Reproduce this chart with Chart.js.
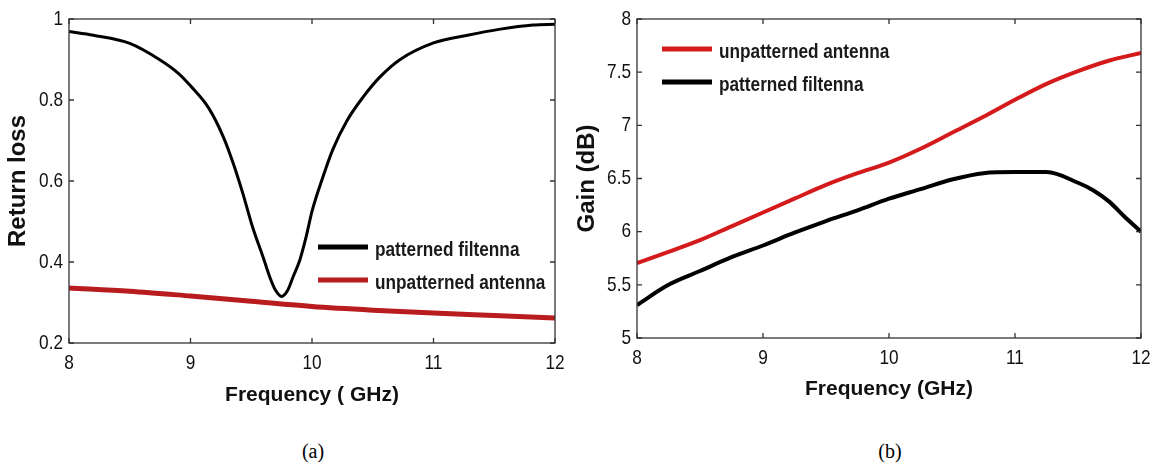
<!DOCTYPE html>
<html>
<head>
<meta charset="utf-8">
<script src="https://cdn.jsdelivr.net/npm/chart.js@4.4.1/dist/chart.umd.min.js"></script>
<style>
  html, body { margin: 0; padding: 0; background: #fff; }
  body { width: 1156px; height: 471px; position: relative; overflow: hidden; }
  .panel { position: absolute; top: 0; }
  .cap { position: absolute; font-family: 'Liberation Serif', 'Times New Roman', serif; font-size: 20px; color: #000; transform: translate(-50%, -50%); }
</style>
</head>
<body>
<div class="panel" style="left:0"><canvas id="rl" width="570" height="420"></canvas></div>
<div class="panel" style="left:570px"><canvas id="gain" width="586" height="420"></canvas></div>
<div class="cap" style="left:313px;top:451px">(a)</div>
<div class="cap" style="left:890px;top:451px">(b)</div>
<script>
// (a) return loss
const rlFreqPatterned = [8, 8.2, 8.5, 8.75, 8.9, 9.0, 9.15, 9.27, 9.35, 9.43, 9.51, 9.6, 9.65, 9.7, 9.75, 9.8, 9.84, 9.9, 9.95, 10.0, 10.09, 10.17, 10.29, 10.42, 10.56, 10.72, 11.0, 11.28, 11.55, 11.82, 12];
const rlPatterned = [0.969, 0.96, 0.94, 0.899, 0.866, 0.835, 0.78, 0.709, 0.645, 0.57, 0.487, 0.41, 0.365, 0.33, 0.315, 0.33, 0.36, 0.405, 0.46, 0.525, 0.61, 0.677, 0.75, 0.807, 0.857, 0.899, 0.941, 0.96, 0.975, 0.985, 0.987];
const rlFreqUnpatterned = [8, 8.5, 9, 9.5, 10, 10.5, 11, 11.5, 12];
const rlUnpatterned = [0.336, 0.328, 0.316, 0.303, 0.29, 0.281, 0.274, 0.268, 0.262];
const rlTicks = [0.2, 0.4, 0.6, 0.8, 1];

// (b) gain
const gainFreqUnpatterned = [8, 8.25, 8.5, 8.75, 9, 9.25, 9.5, 9.75, 10, 10.25, 10.5, 10.75, 11, 11.25, 11.5, 11.75, 12];
const gainUnpatterned = [5.705, 5.81, 5.92, 6.05, 6.18, 6.31, 6.44, 6.55, 6.65, 6.78, 6.93, 7.08, 7.24, 7.39, 7.51, 7.61, 7.68];
const gainFreqPatterned = [8, 8.25, 8.5, 8.75, 9, 9.25, 9.5, 9.75, 10, 10.25, 10.5, 10.75, 11, 11.25, 11.5, 11.62, 11.75, 11.87, 12];
const gainPatterned = [5.31, 5.5, 5.63, 5.76, 5.87, 5.99, 6.1, 6.2, 6.31, 6.4, 6.49, 6.55, 6.56, 6.56, 6.46, 6.39, 6.28, 6.14, 6.0];
const gainTicks = [5, 5.5, 6, 6.5, 7, 7.5, 8];

const freqTicks = [8, 9, 10, 11, 12];

const sans = "'Liberation Sans', Arial, sans-serif";
const squeeze = 0.82; // no Arial Narrow here, so squeeze Liberation Sans

const pts = (xs, ys) => xs.map((x, i) => ({ x: x, y: ys[i] }));

function narrowText(ctx, str, x, y, font, align, base) {
  ctx.save();
  ctx.translate(x, y);
  ctx.scale(squeeze, 1);
  ctx.font = font;
  ctx.textAlign = align;
  ctx.textBaseline = base;
  ctx.fillText(str, 0, 0);
  ctx.restore();
}

// matlab style box with inward ticks and narrow tick labels
const frame = {
  id: 'frame',
  afterDatasetsDraw(chart) {
    const { ctx, chartArea: a, scales: { x, y } } = chart;
    const t = 5;
    ctx.save();
    ctx.strokeStyle = '#333';
    ctx.lineWidth = 1.3;
    ctx.strokeRect(a.left, a.top, a.right - a.left, a.bottom - a.top);
    ctx.beginPath();
    x.ticks.forEach(tk => {
      const px = x.getPixelForValue(tk.value);
      ctx.moveTo(px, a.bottom); ctx.lineTo(px, a.bottom - t);
      ctx.moveTo(px, a.top); ctx.lineTo(px, a.top + t);
    });
    y.ticks.forEach(tk => {
      const py = y.getPixelForValue(tk.value);
      ctx.moveTo(a.left, py); ctx.lineTo(a.left + t, py);
      ctx.moveTo(a.right, py); ctx.lineTo(a.right - t, py);
    });
    ctx.stroke();
    ctx.fillStyle = '#111';
    const f = '21px ' + sans;
    x.ticks.forEach(tk => narrowText(ctx, String(tk.value), x.getPixelForValue(tk.value), a.bottom + 26, f, 'center', 'alphabetic'));
    y.ticks.forEach(tk => narrowText(ctx, String(tk.value), a.left - 6, y.getPixelForValue(tk.value), f, 'right', 'middle'));
    ctx.restore();
  }
};

// legend box drawn inside the axes
const key = {
  id: 'key',
  afterDatasetsDraw(chart, args, opts) {
    const { ctx, chartArea: a } = chart;
    opts.order.forEach((di, row) => {
      const ds = chart.data.datasets[di];
      const x0 = a.left + opts.x;
      const y0 = a.top + opts.y + row * 33;
      ctx.save();
      ctx.strokeStyle = ds.borderColor;
      ctx.lineWidth = 5;
      ctx.beginPath();
      ctx.moveTo(x0, y0);
      ctx.lineTo(x0 + 50, y0);
      ctx.stroke();
      ctx.fillStyle = '#1a1a1a';
      narrowText(ctx, ds.label, x0 + 57, y0 + 9, 'bold 21px ' + sans, 'left', 'alphabetic');
      ctx.restore();
    });
  }
};

function axes(ticksY, ymin, ymax, yWidth, yTitle, yTitlePad, xTitle, xTitlePad) {
  return {
    x: {
      type: 'linear', min: 8, max: 12,
      afterBuildTicks: s => { s.ticks = freqTicks.map(v => ({ value: v })); },
      grid: { display: false }, border: { display: false },
      ticks: { display: false },
      title: { display: true, text: xTitle, color: '#111', font: { family: sans, weight: 'bold', size: 21 }, padding: { top: 0, bottom: xTitlePad } }
    },
    y: {
      type: 'linear', min: ymin, max: ymax,
      afterBuildTicks: s => { s.ticks = ticksY.map(v => ({ value: v })); },
      afterFit: s => { s.width = yWidth; },
      grid: { display: false }, border: { display: false },
      ticks: { display: false },
      title: { display: true, text: yTitle, color: '#111', font: { family: sans, weight: 'bold', size: 24 }, padding: { top: yTitlePad, bottom: 0 } }
    }
  };
}

function makeChart(id, datasets, scales, plotH, padRight, keyOpts) {
  scales.x.afterFit = s => { s.height = 420 - 19 - plotH; };
  return new Chart(document.getElementById(id), {
    type: 'line',
    data: { datasets: datasets },
    options: {
      responsive: false,
      animation: false,
      layout: { padding: { left: 0, right: padRight, top: 19, bottom: 0 } },
      elements: { point: { radius: 0 }, line: { cubicInterpolationMode: 'monotone', borderCapStyle: 'butt' } },
      plugins: { legend: { display: false }, tooltip: { enabled: false }, key: keyOpts },
      scales: scales
    },
    plugins: [frame, key]
  });
}

makeChart('rl', [
  { label: 'patterned filtenna', data: pts(rlFreqPatterned, rlPatterned), borderColor: '#000000', borderWidth: 3 },
  { label: 'unpatterned antenna', data: pts(rlFreqUnpatterned, rlUnpatterned), borderColor: '#b81c1f', borderWidth: 5 }
], axes(rlTicks, 0.2, 1, 69, 'Return loss', 4, 'Frequency ( GHz)', 12), 324, 15, { x: 249, y: 228, order: [0, 1] });

makeChart('gain', [
  { label: 'unpatterned antenna', data: pts(gainFreqUnpatterned, gainUnpatterned), borderColor: '#d41a1a', borderWidth: 4 },
  { label: 'patterned filtenna', data: pts(gainFreqPatterned, gainPatterned), borderColor: '#000000', borderWidth: 4 }
], axes(gainTicks, 5, 8, 67, 'Gain (dB)', 3, 'Frequency (GHz)', 18), 319, 15, { x: 25, y: 30, order: [0, 1] });
</script>
</body>
</html>
